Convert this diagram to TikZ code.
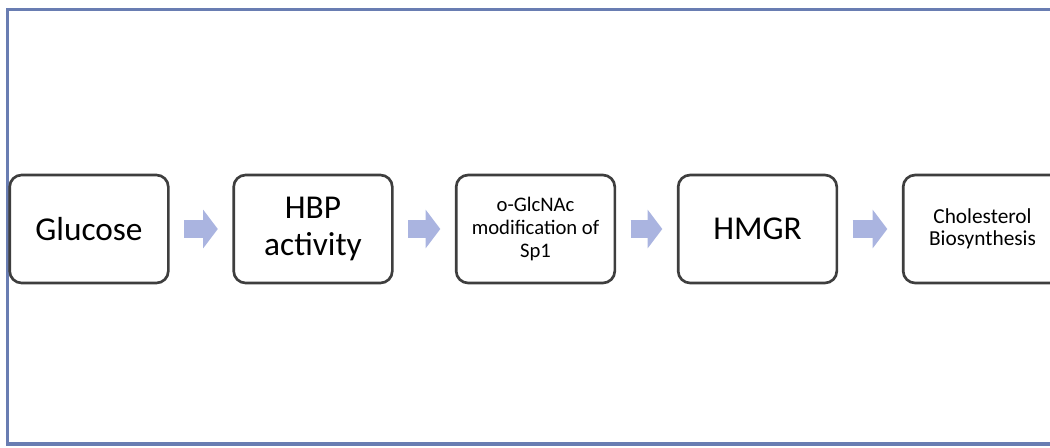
\documentclass[tikz,border=0pt]{standalone}
\usepackage{fontspec}
\setmainfont{Carlito}
\usepackage{xcolor}
\usetikzlibrary{arrows.meta}

\definecolor{framebl}{RGB}{105,125,178}
\definecolor{flowbl}{RGB}{170,180,224}
\definecolor{boxgr}{RGB}{62,62,62}

\tikzset{
  stepbox/.style={draw=boxgr, line width=2pt, rounded corners=9pt, fill=white,
    minimum width=119pt, minimum height=81pt, inner sep=2pt, align=center, text=black},
  bigtxt/.style={font=\fontsize{25}{28}\selectfont},
  smalltxt/.style={font=\fontsize{15.5}{17}\selectfont},
  flow/.style={draw=flowbl, line width=13.5pt,
    -{Triangle[width=28.5pt,length=11pt]}, shorten <=10.9pt, shorten >=10.9pt}
}

\begin{document}
\begin{tikzpicture}[x=0.75pt,y=0.75pt,yscale=-1,xscale=1]
        \useasboundingbox (0,0) rectangle (1050,447);
        \clip (0,0) rectangle (1050,447);

        %Shape: Frame
        \draw [draw=framebl, line width=2.6pt] (7.5,9.5) rectangle (1070,444);

        % Text Node
        \node [stepbox, bigtxt] (glucose) at (89,229) {Glucose};
        % Text Node
        \node [stepbox, bigtxt] (hbp) at (313,229) {HBP\\activity};
        % Text Node
        \node [stepbox, smalltxt] (glcnac) at (535.5,229) {o-GlcNAc\\modification of\\Sp1};
        % Text Node
        \node [stepbox, bigtxt] (hmgr) at (757.5,229) {HMGR};
        % Text Node
        \node [stepbox, font=\fontsize{16}{16.5}\selectfont] (chol) at (982.5,229) {Cholesterol\\Biosynthesis};

        %Arrows
        \draw [flow] (glucose) -- (hbp);
        \draw [flow] (hbp) -- (glcnac);
        \draw [flow] (glcnac) -- (hmgr);
        \draw [flow] (hmgr) -- (chol);

\end{tikzpicture}
\end{document}
